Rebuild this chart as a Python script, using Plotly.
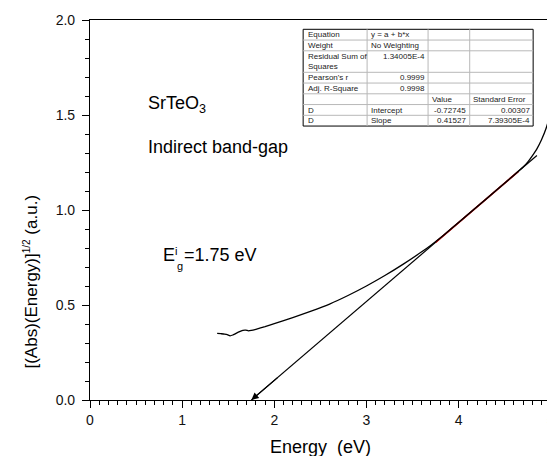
import plotly.graph_objects as go

# ---------------- data ----------------
energy = [1.38, 1.42, 1.46, 1.49, 1.52, 1.55, 1.59, 1.63, 1.66, 1.69, 1.72, 1.75,
          1.80, 1.90, 2.00, 2.20, 2.40, 2.60, 2.80, 3.00, 3.20, 3.40, 3.60, 3.70,
          3.80, 3.90, 4.00, 4.20, 4.40, 4.60, 4.70, 4.75, 4.80, 4.85, 4.90, 4.95,
          5.00, 5.03]
signal = [0.351, 0.349, 0.347, 0.344, 0.338, 0.342, 0.352, 0.361, 0.367, 0.368, 0.364, 0.366,
          0.372, 0.386, 0.402, 0.434, 0.468, 0.505, 0.550, 0.600, 0.655, 0.715, 0.780, 0.815,
          0.853, 0.893, 0.934, 1.017, 1.100, 1.183, 1.226, 1.252, 1.285, 1.322, 1.370, 1.430,
          1.520, 1.620]

fit_intercept = -0.72745
fit_slope = 0.41527
fit_range = [3.75, 4.65]      # fitted region (red)
extrap_end = 4.85             # end of extrapolated tangent line

x_ticks = [0, 1, 2, 3, 4, 5]
y_ticks = [0.0, 0.5, 1.0, 1.5, 2.0]

table_col1 = ["Equation", "Weight", "Residual Sum of<br>Squares", "Pearson's r",
              "Adj. R-Square", "", "D", "D"]
table_col2 = ["y = a + b*x", "No Weighting", "1.34005E-4", "0.9999", "0.9998", "",
              "Intercept", "Slope"]
table_col3 = ["", "", "", "", "", "Value", "-0.72745", "0.41527"]
table_col4 = ["", "", "", "", "", "Standard Error", "0.00307", "7.39305E-4"]

# ---------------- layout helpers ----------------
# the page body adds an 8px offset; figure is sized so that the plot area
# spans page pixels x 90..555 and y 20..400
OFF = 8
W, H = 555 - OFF, 456 - OFF
PLOT_L, PLOT_T, PLOT_R, PLOT_B = 90, 20, 555, 400
ML, MT = PLOT_L - OFF, PLOT_T - OFF
MR = W - (PLOT_R - OFF)
MB = H - (PLOT_B - OFF)
PW, PH = PLOT_R - PLOT_L, PLOT_B - PLOT_T


def pxx(p):
    return (p - PLOT_L) / PW


def pxy(p):
    return (PLOT_B - p) / PH


FONT = "Arial, 'Liberation Sans', sans-serif"

gap = -fit_intercept / fit_slope


def fit(x):
    return fit_intercept + fit_slope * x


fig = go.Figure()

# extrapolated tangent line (black)
fig.add_trace(go.Scatter(x=[gap, extrap_end], y=[fit(gap), fit(extrap_end)], mode="lines",
                         line=dict(color="black", width=1.2), hoverinfo="skip", showlegend=False))
# fitted segment (red)
fig.add_trace(go.Scatter(x=fit_range, y=[fit(v) for v in fit_range], mode="lines",
                         line=dict(color="#c00000", width=1.8), hoverinfo="skip", showlegend=False))
# data curve
fig.add_trace(go.Scatter(x=energy, y=signal, mode="lines",
                         line=dict(color="black", width=1.3, shape="spline", smoothing=0.5),
                         showlegend=False))

annotations = []
# arrow head at the intercept with the energy axis
annotations.append(dict(x=gap, y=0, ax=gap + 0.3, ay=fit(gap + 0.3), xref="x", yref="y",
                        axref="x", ayref="y", showarrow=True, arrowhead=2, arrowsize=1.2,
                        arrowwidth=1.2, arrowcolor="black", text=""))

# texts
big = dict(family=FONT, size=18, color="black")
annotations.append(dict(x=pxx(146), y=pxy(104), xref="paper", yref="paper", text="SrTeO<sub>3</sub>",
                        showarrow=False, xanchor="left", yanchor="middle", font=big))
annotations.append(dict(x=pxx(146), y=pxy(147), xref="paper", yref="paper", text="Indirect band-gap",
                        showarrow=False, xanchor="left", yanchor="middle", font=big))
annotations.append(dict(x=pxx(162), y=pxy(255), xref="paper", yref="paper", text="E",
                        showarrow=False, xanchor="left", yanchor="middle", font=big))
annotations.append(dict(x=pxx(174), y=pxy(251), xref="paper", yref="paper", text="i",
                        showarrow=False, xanchor="left", yanchor="middle",
                        font=dict(family=FONT, size=11, color="black")))
annotations.append(dict(x=pxx(175.5), y=pxy(266), xref="paper", yref="paper", text="g",
                        showarrow=False, xanchor="left", yanchor="middle",
                        font=dict(family=FONT, size=11, color="black")))
annotations.append(dict(x=pxx(182.5), y=pxy(255), xref="paper", yref="paper", text="=1.75 eV",
                        showarrow=False, xanchor="left", yanchor="middle", font=big))

# axis titles
annotations.append(dict(x=pxx(322), y=pxy(447), xref="paper", yref="paper",
                        text="Energy\u00a0 (eV)", showarrow=False, xanchor="center",
                        yanchor="middle", font=dict(family=FONT, size=18, color="black")))
annotations.append(dict(x=pxx(30), y=pxy(282), xref="paper", yref="paper",
                        text="[(Abs)(Energy)]<sup><span style='font-size:10px'>1/2</span></sup>\u00a0(a.u.)",
                        showarrow=False, textangle=-90, xanchor="center", yanchor="middle",
                        font=dict(family=FONT, size=17, color="black")))

# ---------------- statistics table ----------------
col_edges = [305, 369.5, 431, 473, 537]
row_lines = [1, 1, 2, 1, 1, 1, 1, 1]
row_unit = 10.75
tbl_top = 29.3
row_edges = [tbl_top]
for n in row_lines:
    row_edges.append(row_edges[-1] + n * row_unit)

shapes = []
shapes.append(dict(type="rect", xref="paper", yref="paper",
                   x0=pxx(col_edges[0]), x1=pxx(col_edges[-1]),
                   y0=pxy(row_edges[0]), y1=pxy(row_edges[-1]),
                   fillcolor="white", line=dict(color="black", width=1), layer="above"))
for ce in col_edges[1:-1]:
    shapes.append(dict(type="line", xref="paper", yref="paper", x0=pxx(ce), x1=pxx(ce),
                       y0=pxy(row_edges[0]), y1=pxy(row_edges[-1]),
                       line=dict(color="#b8b8b8", width=1), layer="above"))
for re_ in row_edges[1:-1]:
    shapes.append(dict(type="line", xref="paper", yref="paper", x0=pxx(col_edges[0]),
                       x1=pxx(col_edges[-1]), y0=pxy(re_), y1=pxy(re_),
                       line=dict(color="#b8b8b8", width=1), layer="above"))


def is_num(s):
    try:
        float(s)
        return True
    except ValueError:
        return False


tfont = dict(family=FONT, size=8, color="#222")
cols = [table_col1, table_col2, table_col3, table_col4]
for ci, col in enumerate(cols):
    for ri, txt in enumerate(col):
        if not txt:
            continue
        top, bot = row_edges[ri], row_edges[ri + 1]
        if is_num(txt):
            xa, xp = "right", col_edges[ci + 1] - 2.5
            yc = top + row_unit / 2 + 0.3
        else:
            xa, xp = "left", col_edges[ci] + (4 if ci == 0 else 2.5)
            yc = (top + bot) / 2 + 0.3
        annotations.append(dict(x=pxx(xp), y=pxy(yc), xref="paper", yref="paper", text=txt,
                                showarrow=False, xanchor=xa, yanchor="middle", align=xa,
                                font=tfont, borderpad=0))

axis_common = dict(showline=True, linecolor="black", linewidth=1.2, ticks="outside",
                   tickcolor="black", tickwidth=1.2, ticklen=7, showgrid=False, zeroline=False,
                   tickfont=dict(family=FONT, size=14, color="#111"))

fig.update_layout(
    width=W, height=H,
    margin=dict(l=ML, r=MR, t=MT, b=MB),
    paper_bgcolor="white", plot_bgcolor="white",
    showlegend=False,
    xaxis=dict(range=[0, 5.003], tickvals=x_ticks, ticktext=[str(v) for v in x_ticks],
               mirror=True, ticklabeloverflow="allow",
               minor=dict(dtick=0.1, ticks="outside", ticklen=4, tickwidth=1, tickcolor="black",
                          showgrid=False),
               **axis_common),
    yaxis=dict(range=[0, 2.0], tickvals=y_ticks, ticktext=[f"{v:.1f}" for v in y_ticks],
               ticklabelstandoff=4,
               minor=dict(dtick=0.1, ticks="outside", ticklen=4, tickwidth=1, tickcolor="black",
                          showgrid=False),
               **axis_common),
    annotations=annotations,
    shapes=shapes,
)

fig.write_html("out.html")
